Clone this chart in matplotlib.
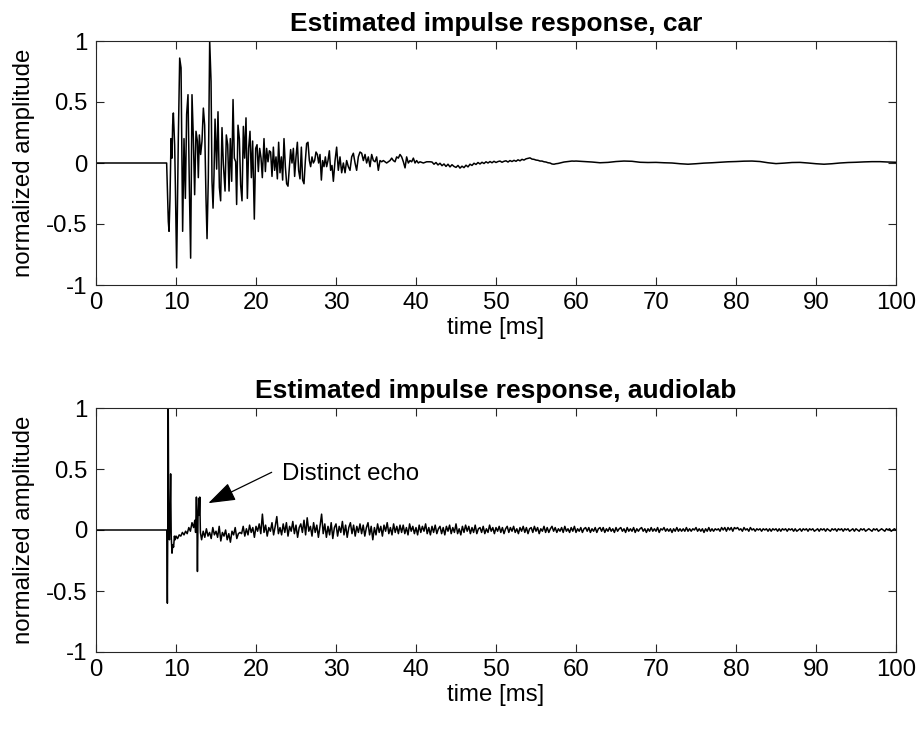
import numpy as np
import matplotlib.pyplot as plt

plt.rcParams['font.family'] = ['Liberation Sans', 'DejaVu Sans']
plt.rcParams['axes.unicode_minus'] = False

# ---- car: onset and early reflections, (time ms, amplitude)
car_early = [
    (0, 0), (8.83, 0), (8.92, -0.20), (9.04, -0.48), (9.13, -0.56), (9.25, -0.29),
    (9.38, 0.20), (9.5, 0.04), (9.58, 0.31), (9.67, 0.41), (9.83, 0.15), (9.92, -0.18),
    (10.08, -0.86), (10.29, 0.20), (10.46, 0.86), (10.63, 0.78), (10.75, -0.07),
    (10.83, -0.56), (11.0, 0.20), (11.17, -0.29), (11.33, 0.40), (11.5, 0.56),
    (11.67, -0.20), (11.83, -0.78), (12.0, 0.56), (12.17, 0.20), (12.33, -0.26),
    (12.5, 0.26), (12.67, 0.18), (12.79, -0.12), (12.92, 0.23), (13.08, 0.07),
    (13.25, 0.18), (13.42, 0.45), (13.58, 0.31), (13.75, -0.29), (13.88, -0.62),
    (14.04, -0.12), (14.21, 1.00), (14.38, 0.67), (14.5, -0.15), (14.63, -0.37),
    (14.75, -0.10), (14.88, 0.36), (15.08, -0.05), (15.25, 0.42), (15.42, -0.20),
    (15.58, -0.31), (15.75, 0.29), (15.92, -0.01), (16.13, -0.23), (16.29, 0.23),
    (16.46, 0.15), (16.63, -0.23), (16.79, 0.20), (16.96, -0.15), (17.13, 0.52),
    (17.29, 0.04), (17.46, 0.01), (17.58, -0.34), (17.75, 0.31), (17.92, 0.20),
    (18.08, -0.18), (18.25, -0.31), (18.42, 0.30), (18.58, 0.04), (18.75, 0.37),
    (18.92, -0.29), (19.08, 0.12), (19.25, 0.26), (19.42, -0.12), (19.58, 0.18),
    (19.79, -0.46), (19.96, 0.12), (20.13, 0.15), (20.29, -0.07), (20.46, 0.12),
    (20.63, 0.04), (20.79, -0.12), (21.0, 0.20), (21.17, -0.07), (21.33, 0.12),
    (21.5, 0.01), (21.67, 0.10), (21.83, 0.09), (22.0, -0.11), (22.17, 0.13),
    (22.33, -0.06), (22.5, 0.05), (22.67, -0.13), (22.83, 0.17), (23.0, -0.08),
    (23.17, 0.05), (23.33, -0.14), (23.5, 0.20), (23.67, -0.03), (23.83, -0.17),
    (24.0, -0.19), (24.17, -0.03), (24.33, 0.11), (24.5, 0.00), (24.67, 0.12),
    (24.83, -0.11), (25.0, 0.05), (25.17, 0.17), (25.33, -0.06), (25.5, -0.13),
    (25.67, 0.13), (25.83, -0.14), (26.0, -0.17), (26.17, 0.02), (26.33, 0.16),
    (26.5, 0.17), (26.67, 0.02), (26.83, -0.03), (27.0, 0.05), (27.17, 0.00),
    (27.33, 0.02), (27.5, 0.09), (27.67, 0.07), (27.83, 0.00), (28.0, 0.07),
    (28.17, -0.14), (28.33, 0.02), (28.5, -0.03), (28.67, 0.05), (28.83, -0.03),
    (29.0, 0.02), (29.17, 0.10), (29.33, -0.06), (29.5, -0.02), (29.67, -0.15),
    (29.88, 0.02), (30.08, 0.13), (30.29, -0.06), (30.5, 0.05), (30.71, -0.08),
    (30.92, 0.00), (31.13, -0.08), (31.33, 0.02), (31.54, -0.03), (31.75, -0.06),
    (31.96, 0.05), (32.17, 0.08), (32.38, 0.00), (32.58, -0.06), (32.79, 0.05),
    (33.0, 0.09), (33.21, 0.08), (33.42, 0.02), (33.63, 0.07), (33.83, 0.00),
    (34.04, 0.05), (34.25, -0.03), (34.46, 0.07), (34.67, 0.02), (34.88, 0.01),
    (35.08, 0.05), (35.29, -0.06), (35.5, 0.02), (35.71, 0.01), (35.92, 0.02),
    (36.13, 0.01), (36.33, 0.00), (36.54, 0.01), (36.75, 0.02), (36.96, 0.04),
    (37.17, 0.02), (37.38, 0.01), (37.58, 0.05), (37.79, 0.04), (38.0, 0.07),
    (38.21, 0.05), (38.42, 0.01), (38.63, -0.04), (38.83, 0.05), (39.04, 0.00),
    (39.25, 0.02), (39.46, 0.01), (39.67, 0.04), (39.88, 0.00), (40.08, 0.02),
    (40.29, 0.00), (40.5, 0.01), (40.92, 0.00), (41.33, 0.01), (41.75, 0.01),
]
# car: 42..60 ms, every 0.25 ms, in thousandths
car_mid = [8, -10, 4, -16, -2, -22, -8, -28, -10, -32, -14, -28, -36,
           -20, -42, -26, -38, -18, -32, -10, -20, -2, -12, 4, -8,
           6, -4, 10, 0, 12, 2, 14, 4, 12, 16, 6, 14,
           18, 8, 20, 12, 22, 14, 26, 18, 30, 24, 34, 38,
           42, 32, 30, 24, 22, 16, 16, 10, 8, 2, 0, -8,
           -10, -6, -4, 0, 4, 8, 10, 12, 14, 16, 15, 16]
# car: 61..100 ms, every 1 ms, in thousandths
car_tail = [12, 8, 2, 5, 12, 16, 14, 6, 4, 5, 2, 0, -6, -10, -6, -1, 2, 6, 10, 12,
            15, 16, 12, 2, -5, -1, 4, 5, 0, -6, -10, -6, 0, 4, 6, 9, 11, 11, 8, 6]

# ---- audiolab: direct sound and the distinct echo, (time ms, amplitude)
lab_early = [
    (0, 0), (8.85, 0), (8.92, -0.60), (8.97, 0.02), (9.03, 1.0), (9.1, -0.02),
    (9.18, -0.08), (9.25, 0.10), (9.33, 0.46), (9.4, -0.05), (9.5, -0.19),
    (9.6, -0.12), (9.7, -0.14), (9.8, -0.05), (9.9, -0.08), (10.0, -0.05),
    (10.2, -0.07), (10.4, -0.04), (10.6, -0.05), (10.8, -0.02), (11.0, -0.04),
    (11.2, -0.01), (11.4, -0.03), (11.6, 0.02), (11.8, -0.01), (12.0, 0.06),
    (12.2, 0.02), (12.35, 0.08), (12.45, -0.02), (12.55, 0.27), (12.62, 0.05),
    (12.68, -0.34), (12.75, 0.10), (12.83, 0.26), (12.9, 0.12), (12.97, 0.27),
    (13.05, -0.02),
]
# audiolab: 13.2..100 ms, every 0.2 ms, in hundredths
lab_rest = [
    -8, -1, -6, 1, -5, -2, -7, 2, -4, -1, -6, 3, -9, -2, -5, 0, -8, -3, -10, -1, -4, 2, -7, -3, -2,
    -3, 3, -5, 1, -4, 4, -2, 2, -6, 3, -1, 5, -3, 13, -2, 4, -5, 2, -1, 6, -4, 3, 11, -3, 2,
    -4, 5, -2, 6, -5, 3, -1, 7, -3, 4, -6, 2, 5, -2, 8, -4, 10, -1, 3, -5, 6, -2, 4, -6, 3,
    13, -3, 5, -6, 3, -4, 6, -7, 2, 5, -5, 3, -2, 7, -4, 4, -6, 2, 6, -3, 4, -5, 3, -2, 5,
    -3, 4, -5, 2, 6, -4, 3, -8, 2, -4, 5, -2, 3, -5, 4, -1, 6, -3, 2, -4, 5, -2, 3, -3, 4,
    -2, 4, -3, 2, -4, 5, -1, 3, -3, 2, -4, 4, -2, 3, -1, 5, -3, 2, -4, 3, -2, 4, -3, 1, 3,
    -3, 2, -4, 3, -1, 4, -3, 2, -2, 5, -3, 1, -4, 3, -2, 4, -1, 3, -3, 2, -2, 4, -3, 1, 2,
    -2, 3, -3, 1, -2, 4, -1, 2, -3, 2, -1, 3, -2, 2, -3, 1, 3, -2, 2, -1, 3, -2, 1, -3, 2,
    -1, 3, -2, 2, -3, 1, 2, -2, 3, -1, 2, -3, 1, -1, 3, -2, 2, -2, 1, 3, -1, 2, -2, 1, -1,
    2, -2, 3, -1, 1, -2, 2, -1, 3, -2, 1, -1, 2, -2, 1, 2, -1, 2, -2, 1, -1, 2, -2, 1, 2,
    -1, 2, -2, 1, -1, 2, -1, 1, -2, 2, -1, 1, 2, -1, 1, -2, 2, -1, 1, -1, 2, -2, 1, -1, 1,
    2, -1, 1, -2, 1, -1, 2, -1, 1, -1, 2, -2, 1, 0, 2, -1, 1, -1, 1, -2, 1, -1, 2, -1, 1,
    -1, 1, -1, 2, -1, 1, -1, 1, 0, 2, -1, 1, -1, 1, -2, 1, -1, 2, -1, 1, -1, 1, 0, 1, -1,
    2, 0, 2, -1, 2, 0, 2, -1, 2, 1, 2, 0, 1, -1, 2, 0, 1, -1, 2, 0, 1, -1, 1, 0, 1,
    -1, 1, 0, 1, -1, 1, -1, 1, 0, 1, -1, 1, -1, 1, 0, 1, -1, 1, 0, 1, -1, 1, -1, 0, 1,
    -1, 1, 0, 1, -1, 1, 0, 1, -1, 0, 1, -1, 1, 0, 1, -1, 1, 0, -1, 1, 0, 1, -1, 1, 0,
    1, -1, 1, 0, 1, -1, 0, 1, -1, 1, 0, -1, 1, 0, 1, -1, 0, 1, 0, -1, 1, 0, 1, -1, 0,
    1, 0, -1, 1, 0, 1, -1, 0, 1, 0,
]

titles = ['Estimated impulse response, car', 'Estimated impulse response, audiolab']
yticks = [-1, -0.5, 0, 0.5, 1]
ytick_labels = ['-1', '-0.5', '0', '0.5', '1']
xticks = list(range(0, 101, 10))

# assemble time axes
t1, v1 = zip(*car_early)
car_t = np.concatenate([t1, 42 + 0.25 * np.arange(len(car_mid)), 61 + np.arange(len(car_tail))])
car_v = np.concatenate([v1, np.array(car_mid) / 1000, np.array(car_tail) / 1000])

t2, v2 = zip(*lab_early)
lab_t = np.concatenate([t2, 13.2 + 0.2 * np.arange(len(lab_rest))])
lab_v = np.concatenate([v2, np.array(lab_rest) / 100])

fig = plt.figure(figsize=(9.22, 7.31), dpi=100)
ax1 = fig.add_axes([96 / 922, 1 - 285 / 731, 800 / 922, 244 / 731])
ax2 = fig.add_axes([96 / 922, 1 - 652 / 731, 800 / 922, 244 / 731])

axc = '0.15'
for ax, t, v, title in [(ax1, car_t, car_v, titles[0]), (ax2, lab_t, lab_v, titles[1])]:
    ax.plot(t, v, color='black', lw=1.1)
    ax.set_xlim(0, 100)
    ax.set_ylim(-1, 1)
    ax.set_xticks(xticks)
    ax.set_yticks(yticks)
    ax.set_yticklabels(ytick_labels)
    ax.tick_params(direction='in', top=True, right=True, length=6, width=0.8,
                   color=axc, labelsize=17.3, labelcolor='black')
    ax.tick_params(axis='x', pad=5)
    ax.tick_params(axis='y', pad=6)
    for s in ax.spines.values():
        s.set_color(axc)
        s.set_linewidth(0.8)
    ax.set_xlabel('time [ms]', fontsize=17.3, labelpad=2)
    ax.set_ylabel('normalized amplitude', fontsize=17.3, labelpad=8)
    ax.set_title(title, fontsize=19, fontweight='bold', pad=7)

ax2.annotate('', xy=(14.04, 0.22), xytext=(21.96, 0.473),
             arrowprops=dict(arrowstyle='-|>,head_length=1.3,head_width=0.45',
                             color='black', lw=0.9, mutation_scale=13,
                             shrinkA=0, shrinkB=0))
ax2.text(23.2, 0.455, 'Distinct echo', fontsize=17.3, va='center', ha='left')

fig.savefig('out.png', dpi=100)
